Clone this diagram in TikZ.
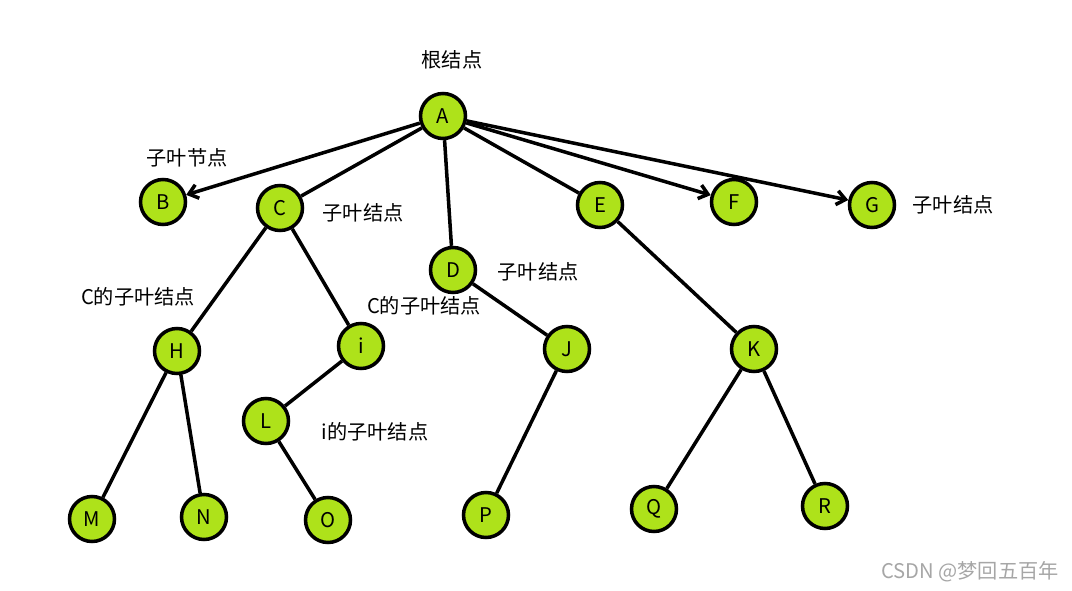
\documentclass[tikz,border=0pt]{standalone}
\usepackage{fontspec}
\setmainfont{Noto Sans CJK SC}
\usetikzlibrary{arrows.meta}
\definecolor{lime}{RGB}{174,226,26}
\begin{document}
\begin{tikzpicture}[x=0.02cm,y=-0.02cm,
  n/.style={circle,draw=black,line width=2pt,fill=lime,minimum size=0.9cm,inner sep=0pt,font=\fontsize{11.5}{12}\selectfont},
  e/.style={line width=2pt},
  a/.style={line width=2pt,-{Straight Barb[length=5pt,width=8pt]}},
  lb/.style={font=\fontsize{11.5}{12}\selectfont,inner sep=0pt}]
\useasboundingbox (0,0) rectangle (1072,591);
\node[n] (A) at (443,116) {A};
\node[n] (B) at (163,202) {B};
\node[n] (C) at (280,208) {C};
\node[n] (D) at (453,270) {D};
\node[n] (E) at (600,205) {E};
\node[n] (F) at (734,202) {F};
\node[n] (G) at (872,205) {G};
\node[n] (H) at (177,351) {H};
\node[n] (I) at (361,346) {i};
\node[n] (J) at (567,349) {J};
\node[n] (K) at (754,349) {K};
\node[n] (L) at (266,421) {L};
\node[n] (M) at (92,519) {M};
\node[n] (N) at (204,517) {N};
\node[n] (O) at (328,520) {O};
\node[n] (P) at (486,515) {P};
\node[n] (Q) at (654,509) {Q};
\node[n] (R) at (825,506) {R};
\draw[a] (A) -- (B);
\draw[e] (A) -- (C);
\draw[e] (A) -- (D);
\draw[e] (A) -- (E);
\draw[a] (A) -- (F);
\draw[a] (A) -- (G);
\draw[e] (C) -- (H);
\draw[e] (C) -- (I);
\draw[e] (D) -- (J);
\draw[e] (E) -- (K);
\draw[e] (H) -- (M);
\draw[e] (H) -- (N);
\draw[e] (I) -- (L);
\draw[e] (L) -- (O);
\draw[e] (J) -- (P);
\draw[e] (K) -- (Q);
\draw[e] (K) -- (R);
\node[lb] (t1) at (452,60) {根结点};
\node[lb] (t2) at (187,158) {子叶节点};
\node[lb] (t3) at (363,213) {子叶结点};
\node[lb] (t4) at (538,272) {子叶结点};
\node[lb] (t5) at (953,205) {子叶结点};
\node[lb] (t6) at (138,297) {C的子叶结点};
\node[lb] (t7) at (424,306) {C的子叶结点};
\node[lb] (t8) at (375,432) {i的子叶结点};
\node[lb,text=gray!70] (w) at (970,572) {CSDN @梦回五百年};
\end{tikzpicture}
\end{document}
